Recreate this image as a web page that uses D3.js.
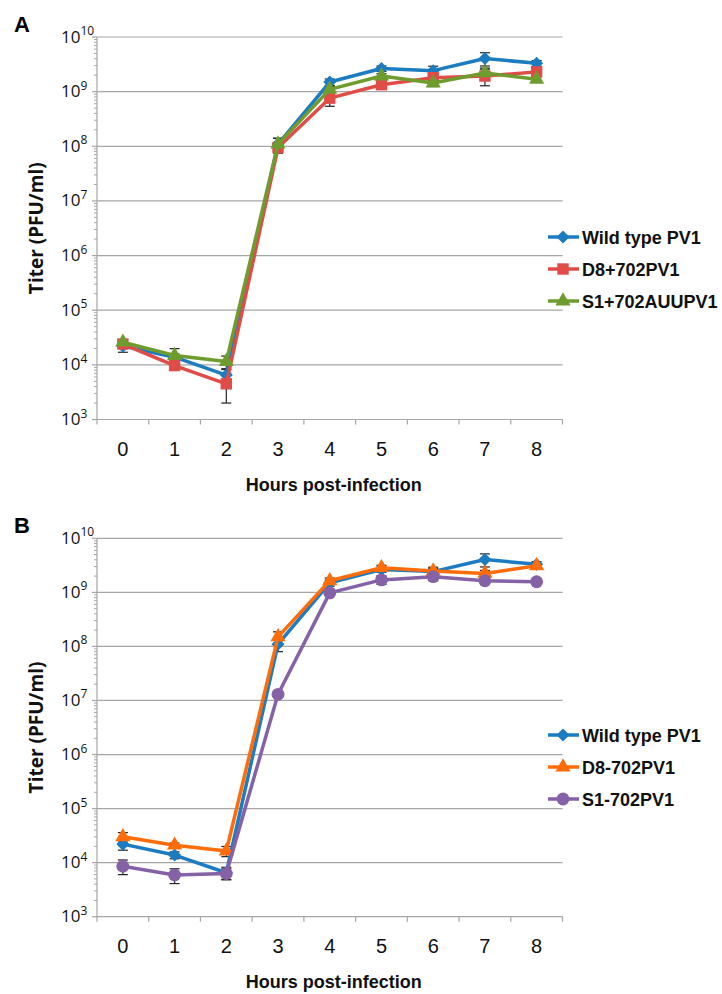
<!DOCTYPE html>
<html>
<head>
<meta charset="utf-8">
<script src="https://cdn.jsdelivr.net/npm/d3@7"></script>
<style>
  body { margin: 0; background: #fff; }
  svg { display: block; }
</style>
</head>
<body>
<div id="chart"></div>
<script>
// hours post-infection (categories)
const hours = [0, 1, 2, 3, 4, 5, 6, 7, 8];

// titers (PFU/ml)
const wildType   = [2.2e4, 1.38e4, 6.5e3, 1.1e8, 1.5e9, 2.65e9, 2.42e9, 4.05e9, 3.3e9];
const d8Plus702  = [2.4e4, 9.7e3, 4.5e3, 9.5e7, 7.6e8, 1.34e9, 1.8e9, 1.93e9, 2.3e9];
const s1Plus702  = [2.6e4, 1.48e4, 1.15e4, 1.1e8, 1.1e9, 1.93e9, 1.44e9, 2.2e9, 1.68e9];
const d8Minus702 = [3.0e4, 2.1e4, 1.64e4, 1.5e8, 1.64e9, 2.86e9, 2.48e9, 2.24e9, 3.1e9];
const s1Minus702 = [8.6e3, 5.9e3, 6.3e3, 1.3e7, 9.8e8, 1.7e9, 1.95e9, 1.64e9, 1.57e9];

// standard deviations
const wildTypeSd   = [5e3, 2e3, 1.7e3, 3e7, 2e8, 3e8, 5e8, 1.1e9, 4e8];
const d8Plus702Sd  = [3e3, 1.5e3, 2.5e3, 2e7, 2.2e8, 2e8, 3e8, 6.5e8, 3e8];
const s1Plus702Sd  = [3e3, 5e3, 3e3, 3e7, 1.5e8, 2e8, 2e8, 5e8, 2e8];
const d8Minus702Sd = [6e3, 2e3, 3.5e3, 3.6e7, 2e8, 3e8, 3e8, 3e8, 3e8];
const s1Minus702Sd = [2.6e3, 1.8e3, 1.4e3, 1.5e6, 1e8, 3e8, 3e8, 2e8, 1e8];

const yTicks = [1e3, 1e4, 1e5, 1e6, 1e7, 1e8, 1e9, 1e10];

const panels = [
  {
    letter: "A", top: 37, bottom: 419.5,
    series: [
      {name: "Wild type PV1", values: wildType, sd: wildTypeSd, color: "#1c7cc2", shape: "diamond"},
      {name: "D8+702PV1", values: d8Plus702, sd: d8Plus702Sd, color: "#e04c48", shape: "square"},
      {name: "S1+702AUUPV1", values: s1Plus702, sd: s1Plus702Sd, color: "#6f9c2f", shape: "triangle"}
    ],
    legendY: 237
  },
  {
    letter: "B", top: 538.3, bottom: 916.7,
    series: [
      {name: "Wild type PV1", values: wildType, sd: wildTypeSd, color: "#1c7cc2", shape: "diamond"},
      {name: "D8-702PV1", values: d8Minus702, sd: d8Minus702Sd, color: "#ff6d0a", shape: "triangle"},
      {name: "S1-702PV1", values: s1Minus702, sd: s1Minus702Sd, color: "#8561a6", shape: "circle"}
    ],
    legendY: 735
  }
];

const W = 722, H = 994;
const left = 97, right = 562.5;
const gridColor = "#a6a6a6";

const svg = d3.select("#chart").append("svg")
  .attr("width", W)
  .attr("height", H);

function markerPath(shape) {
  if (shape === "diamond") {
    return "M0,-6.5L6.5,0L0,6.5L-6.5,0Z";
  }
  if (shape === "square") return d3.symbol().type(d3.symbolSquare).size(130)();
  if (shape === "triangle") return d3.symbol().type(d3.symbolTriangle).size(100)();
  return d3.symbol().type(d3.symbolCircle).size(130)();
}

panels.forEach(p => {
  const g = svg.append("g");

  let x = d3.scaleBand()
    .domain(hours)
    .range([left, right]);

  let y = d3.scaleLog()
    .domain([1e3, 1e10])
    .range([p.bottom, p.top]);

  ////////////
  /// Grid ///
  ////////////

  g.selectAll(".grid")
    .data(yTicks.slice(1))
    .enter()
    .append("line")
    .attr("x1", left).attr("x2", right)
    .attr("y1", d => y(d)).attr("y2", d => y(d))
    .attr("stroke", gridColor)
    .attr("stroke-width", 1.2);

  // minor ticks
  let minor = [];
  for (let e = 3; e < 10; e++) {
    for (let m = 2; m < 10; m++) minor.push(m * Math.pow(10, e));
  }
  g.selectAll(".minor")
    .data(minor)
    .enter()
    .append("line")
    .attr("x1", left - 3).attr("x2", left)
    .attr("y1", d => y(d)).attr("y2", d => y(d))
    .attr("stroke", gridColor)
    .attr("stroke-width", 1);

  g.selectAll(".major")
    .data(yTicks)
    .enter()
    .append("line")
    .attr("x1", left - 5).attr("x2", left)
    .attr("y1", d => y(d)).attr("y2", d => y(d))
    .attr("stroke", gridColor)
    .attr("stroke-width", 1.2);

  // axis lines
  g.append("line")
    .attr("x1", left).attr("x2", left)
    .attr("y1", p.top).attr("y2", p.bottom)
    .attr("stroke", gridColor).attr("stroke-width", 1.2);

  g.append("line")
    .attr("x1", left).attr("x2", right)
    .attr("y1", p.bottom).attr("y2", p.bottom)
    .attr("stroke", gridColor).attr("stroke-width", 1.2);

  // x ticks between categories
  let xTickPos = hours.map(h => x(h)).concat([x(hours[hours.length - 1]) + x.bandwidth()]);
  g.selectAll(".xtick")
    .data(xTickPos)
    .enter()
    .append("line")
    .attr("x1", d => d).attr("x2", d => d)
    .attr("y1", p.bottom).attr("y2", p.bottom + 5)
    .attr("stroke", gridColor).attr("stroke-width", 1.2);

  //////////////
  /// Labels ///
  //////////////

  g.selectAll(".xlabel")
    .data(hours)
    .enter()
    .append("text")
    .attr("x", d => x(d) + x.bandwidth() / 2)
    .attr("y", p.bottom + 36)
    .attr("text-anchor", "middle")
    .attr("style", "font-family: 'Liberation Sans', Arial; font-size: 20px;")
    .attr("fill", "#111")
    .text(d => d);

  let yl = g.selectAll(".ylabel")
    .data(yTicks)
    .enter()
    .append("text")
    .attr("x", 61)
    .attr("y", d => y(d) + 5.5)
    .attr("style", "font-family: 'Open Sans'; font-size: 17px;")
    .attr("fill", "#111");
  yl.append("tspan").text("10");
  yl.append("tspan")
    .attr("dy", -7.5)
    .attr("style", "font-size: 12px;")
    .text(d => Math.round(Math.log10(d)));

  g.append("text")
    .attr("x", (left + right) / 2 + 4)
    .attr("y", p.bottom + 71)
    .attr("text-anchor", "middle")
    .attr("style", "font-family: 'Liberation Sans', Arial; font-size: 18px; font-weight: bold;")
    .attr("fill", "#111")
    .text("Hours post-infection");

  g.append("text")
    .attr("transform", "translate(43," + ((p.top + p.bottom) / 2) + ") rotate(-90)")
    .attr("text-anchor", "middle")
    .attr("style", "font-family: 'Open Sans'; font-size: 19px; font-weight: bold;")
    .attr("fill", "#111")
    .text("Titer (PFU/ml)");

  g.append("text")
    .attr("x", 14)
    .attr("y", p.top - 5)
    .attr("style", "font-family: 'Liberation Sans', Arial; font-size: 22px; font-weight: bold;")
    .attr("fill", "#000")
    .text(p.letter);

  //////////////
  /// Series ///
  //////////////

  let cx = h => x(h) + x.bandwidth() / 2;

  // error bars
  p.series.forEach(s => {
    let eb = g.append("g").attr("stroke", "#222").attr("stroke-width", 1.2);
    s.values.forEach((v, i) => {
      let lo = Math.max(v - s.sd[i], 1e3);
      let hi = v + s.sd[i];
      let px = cx(hours[i]);
      eb.append("line").attr("x1", px).attr("x2", px).attr("y1", y(lo)).attr("y2", y(hi));
      [hi, lo].forEach(e => {
        if (e <= 1e3) return;
        eb.append("line").attr("x1", px - 5).attr("x2", px + 5).attr("y1", y(e)).attr("y2", y(e));
      });
    });
  });

  p.series.forEach(s => {
    g.append("path")
      .datum(s.values)
      .attr("fill", "none")
      .attr("stroke", s.color)
      .attr("stroke-width", 3.5)
      .attr("stroke-linejoin", "round")
      .attr("d", d3.line()
        .x((d, i) => cx(hours[i]))
        .y(d => y(d)));

    g.selectAll(null)
      .data(s.values)
      .enter()
      .append("path")
      .attr("d", markerPath(s.shape))
      .attr("transform", (d, i) => "translate(" + cx(hours[i]) + "," + y(d) + ")")
      .attr("fill", s.color);
  });

  //////////////
  /// Legend ///
  //////////////

  p.series.forEach((s, i) => {
    let ly = p.legendY + i * 32;
    g.append("line")
      .attr("x1", 548).attr("x2", 579)
      .attr("y1", ly).attr("y2", ly)
      .attr("stroke", s.color).attr("stroke-width", 3.5);
    g.append("path")
      .attr("d", markerPath(s.shape))
      .attr("transform", "translate(563," + ly + ")")
      .attr("fill", s.color);
    g.append("text")
      .attr("x", 582)
      .attr("y", ly + 6.5)
      .attr("style", "font-family: 'Liberation Sans', Arial; font-size: 18px; font-weight: bold;")
      .attr("fill", "#111")
      .text(s.name);
  });
});
</script>
</body>
</html>
